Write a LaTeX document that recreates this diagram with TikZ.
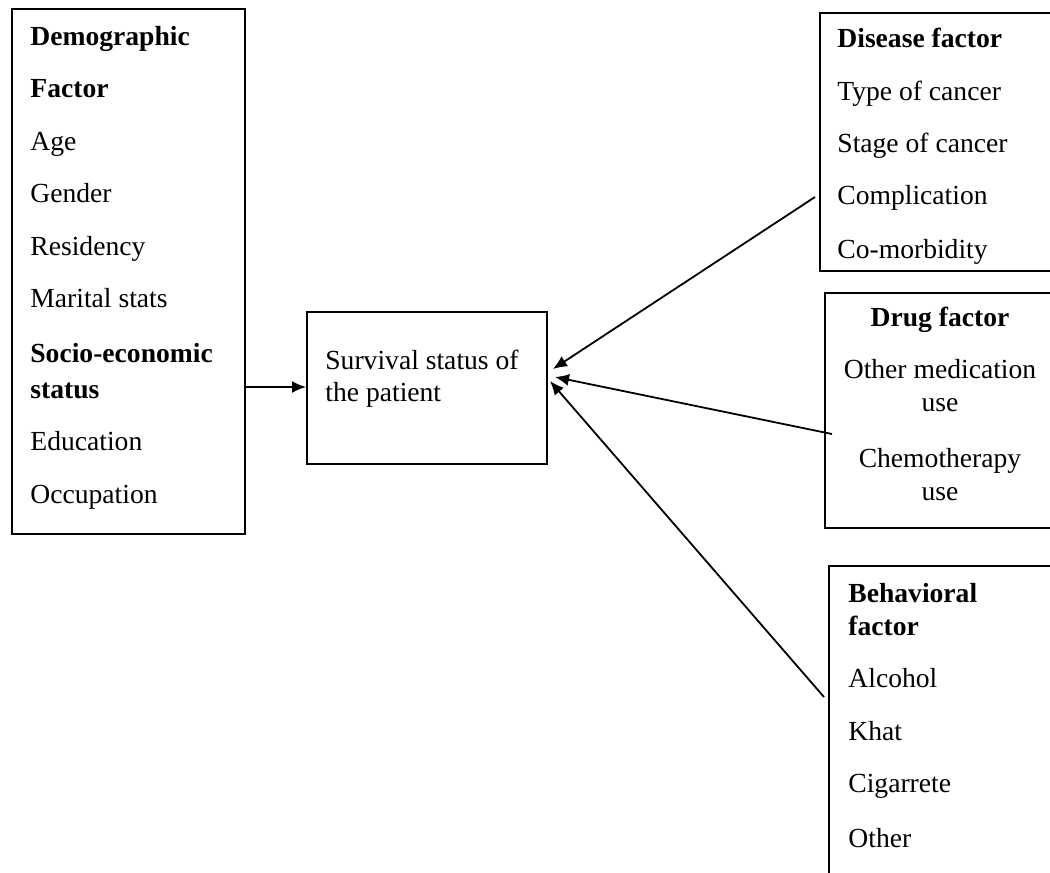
\documentclass[tikz,border=0pt]{standalone}
\usepackage{fontspec}
\setmainfont{Liberation Serif}
\usetikzlibrary{arrows.meta}
\begin{document}
\begin{tikzpicture}[x=0.5pt,y=-0.5pt,
  box/.style={draw,line width=1pt,rectangle,inner sep=0pt,anchor=north west},
  txt/.style={anchor=base west,inner sep=0pt,font=\fontsize{13.8}{16}\selectfont},
  ctxt/.style={anchor=base,inner sep=0pt,font=\fontsize{13.8}{16}\selectfont},
  btxt/.style={txt,font=\fontsize{13.8}{16}\selectfont\bfseries},
  cbtxt/.style={ctxt,font=\fontsize{13.8}{16}\selectfont\bfseries},
  conn/.style={line width=0.9pt,-{Latex[length=7pt,width=6pt]}}]
\useasboundingbox (0,0) rectangle (1050,873);
\clip (0,0) rectangle (1050,873);
% boxes
\node[box,minimum width=233*0.5pt,minimum height=525*0.5pt] (demo) at (11,8) {};
\node[box,minimum width=240*0.5pt,minimum height=152*0.5pt] (surv) at (306,311) {};
\node[box,minimum width=240*0.5pt,minimum height=258*0.5pt] (dis) at (819,12) {};
\node[box,minimum width=240*0.5pt,minimum height=235*0.5pt] (drug) at (824,292) {};
\node[box,minimum width=240*0.5pt,minimum height=330*0.5pt] (beh) at (828,565) {};
% demographic text
\node[btxt] (d1) at (30,45) {Demographic};
\node[btxt] (d2) at (30,97) {Factor};
\node[txt] (d3) at (30,150) {Age};
\node[txt] (d4) at (30,202) {Gender};
\node[txt] (d5) at (30,255) {Residency};
\node[txt] (d6) at (30,307) {Marital stats};
\node[btxt] (d7) at (30,362) {Socio-economic};
\node[btxt] (d8) at (30,398) {status};
\node[txt] (d9) at (30,450) {Education};
\node[txt] (d10) at (30,503) {Occupation};
% survival text
\node[txt] (s1) at (325,369) {Survival status of};
\node[txt] (s2) at (325,401) {the patient};
% disease text
\node[btxt] (x1) at (837,47) {Disease factor};
\node[txt] (x2) at (837,100) {Type of cancer};
\node[txt] (x3) at (837,152) {Stage of cancer};
\node[txt] (x4) at (837,204) {Complication};
\node[txt] (x5) at (837,258) {Co-morbidity};
% drug text
\node[cbtxt] (g1) at (940,326) {Drug factor};
\node[ctxt] (g2) at (940,378) {Other medication};
\node[ctxt] (g3) at (940,411) {use};
\node[ctxt] (g4) at (940,467) {Chemotherapy};
\node[ctxt] (g5) at (940,500) {use};
% behavioral text
\node[btxt] (b1) at (848,602) {Behavioral};
\node[btxt] (b2) at (848,635) {factor};
\node[txt] (b3) at (848,687) {Alcohol};
\node[txt] (b4) at (848,740) {Khat};
\node[txt] (b5) at (848,792) {Cigarrete};
\node[txt] (b6) at (848,847) {Other};
% connector ends
\coordinate (demoOut) at (demo.east |- 0,387);
\coordinate (survIn) at (surv.west |- 0,387);
\coordinate (disOut) at (815,197);
\coordinate (drugOut) at (832,434);
\coordinate (behOut) at (824,697);
\coordinate (tipA) at (553,369);
\coordinate (tipB) at (555,377);
\coordinate (tipC) at (550,381);
\draw[conn] (demoOut) -- (survIn);
\draw[conn] (disOut) -- (tipA);
\draw[conn] (drugOut) -- (tipB);
\draw[conn] (behOut) -- (tipC);
\end{tikzpicture}
\end{document}
